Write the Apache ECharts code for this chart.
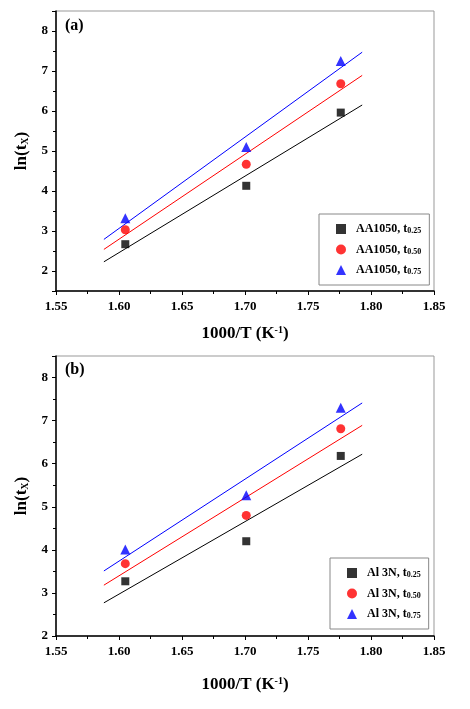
<!DOCTYPE html>
<html>
<head>
<meta charset="utf-8">
<script src="https://cdn.jsdelivr.net/npm/echarts@6/dist/echarts.min.js"></script>
<style>
  html, body { margin: 0; padding: 0; background: #fff; }
  #chart { width: 470px; height: 709px; }
</style>
</head>
<body>
<div id="chart"></div>
<script>
// temperatures, 1000/T
const xT = [1.605, 1.701, 1.776];

// (a) AA1050
const aT25 = [2.67, 4.13, 5.96];
const aT50 = [3.03, 4.67, 6.68];
const aT75 = [3.32, 5.10, 7.25];

// (b) Al 3N
const bT25 = [3.27, 4.20, 6.18];
const bT50 = [3.68, 4.80, 6.81];
const bT75 = [4.01, 5.27, 7.30];

// fitted lines, end points
const fitX = [1.588, 1.793];
const aFit25 = [2.23, 6.15];
const aFit50 = [2.54, 6.89];
const aFit75 = [2.79, 7.47];
const bFit25 = [2.77, 6.22];
const bFit50 = [3.18, 6.89];
const bFit75 = [3.51, 7.41];

const namesA = ["AA1050, t0.25", "AA1050, t0.50", "AA1050, t0.75"];
const namesB = ["Al 3N, t0.25", "Al 3N, t0.50", "Al 3N, t0.75"];

const FONT = "Liberation Serif";
const colors = ["#000000", "#ff0000", "#0000ff"];
const symbols = ["rect", "circle", "triangle"];
const symbolSizes = [8, 9, 10];

function pairs(xs, ys) {
  return xs.map((x, i) => [x, ys[i]]);
}

function xAxisOf(gridIndex, nameGap) {
  return {
    type: "value",
    gridIndex: gridIndex,
    min: 1.55,
    max: 1.85,
    interval: 0.05,
    name: "1000/T (K{sup|-1})",
    nameLocation: "middle",
    nameGap: nameGap,
    nameTextStyle: {
      fontFamily: FONT, fontWeight: "bold", fontSize: 17, color: "#000",
      rich: { sup: { fontFamily: FONT, fontWeight: "bold", fontSize: 10, verticalAlign: "top", color: "#000" } }
    },
    axisLine: { show: true, lineStyle: { color: "#000", width: 1.5 } },
    axisTick: { show: true, inside: false, length: 4, lineStyle: { color: "#000", width: 1 } },
    minorTick: { show: true, splitNumber: 2, length: 3, lineStyle: { color: "#000", width: 1 } },
    splitLine: { show: false },
    axisLabel: {
      margin: 9,
      fontFamily: FONT, fontWeight: "bold", fontSize: 13, color: "#000",
      formatter: (v) => v.toFixed(2)
    }
  };
}

function yAxisOf(gridIndex, min) {
  return {
    type: "value",
    gridIndex: gridIndex,
    min: min,
    max: 8.5,
    splitNumber: 7,
    name: "ln(t{sub|X})",
    nameLocation: "middle",
    nameGap: 26,
    nameTextStyle: {
      fontFamily: FONT, fontWeight: "bold", fontSize: 17, color: "#000",
      rich: { sub: { fontFamily: FONT, fontWeight: "bold", fontSize: 10, verticalAlign: "bottom", color: "#000" } }
    },
    axisLine: { show: true, lineStyle: { color: "#000", width: 1.5 } },
    axisTick: { show: true, inside: false, length: 4, lineStyle: { color: "#000", width: 1 } },
    minorTick: { show: true, splitNumber: 2, length: 3, lineStyle: { color: "#000", width: 1 } },
    splitLine: { show: false },
    axisLabel: {
      margin: 8,
      fontFamily: FONT, fontWeight: "bold", fontSize: 13, color: "#000",
      formatter: (v) => (Math.abs(v - Math.round(v)) < 1e-6 ? String(Math.round(v)) : "")
    }
  };
}

function legendOf(names, left, top, padding) {
  return {
    data: names,
    orient: "vertical",
    left: left,
    top: top,
    padding: padding,
    itemGap: 8.5,
    itemWidth: 10,
    itemHeight: 10,
    borderColor: "#888",
    borderWidth: 1,
    backgroundColor: "#fff",
    formatter: (name) => name.replace(/t(0\.\d+)$/, "t{sub|$1}"),
    textStyle: {
      fontFamily: FONT, fontWeight: "bold", fontSize: 12, color: "#000",
      padding: [0, 0, 0, 5],
      rich: { sub: { fontFamily: FONT, fontWeight: "bold", fontSize: 8, verticalAlign: "bottom", color: "#000" } }
    }
  };
}

const series = [];
const groups = [
  { grid: 0, names: namesA, pts: [aT25, aT50, aT75], fits: [aFit25, aFit50, aFit75] },
  { grid: 1, names: namesB, pts: [bT25, bT50, bT75], fits: [bFit25, bFit50, bFit75] }
];
groups.forEach((g) => {
  g.fits.forEach((f, i) => {
    series.push({
      type: "line",
      xAxisIndex: g.grid,
      yAxisIndex: g.grid,
      data: pairs(fitX, f),
      showSymbol: false,
      silent: true,
      lineStyle: { color: colors[i], width: 1 },
      z: 2
    });
  });
  g.pts.forEach((p, i) => {
    series.push({
      name: g.names[i],
      type: "scatter",
      xAxisIndex: g.grid,
      yAxisIndex: g.grid,
      data: pairs(xT, p),
      symbol: symbols[i],
      symbolSize: symbolSizes[i],
      itemStyle: { color: colors[i] },
      z: 3
    });
  });
});

const option = {
  animation: false,
  backgroundColor: "#fff",
  grid: [
    { left: 56, top: 11, width: 378, height: 280, show: true, borderColor: "#999", borderWidth: 1 },
    { left: 56, top: 356, width: 378, height: 280, show: true, borderColor: "#999", borderWidth: 1 }
  ],
  xAxis: [xAxisOf(0, 34), xAxisOf(1, 40)],
  yAxis: [yAxisOf(0, 1.5), yAxisOf(1, 2)],
  legend: [
    legendOf(namesA, 319, 214, [9, 8, 9, 17]),
    legendOf(namesB, 330, 558, [9, 8, 9, 17])
  ],
  graphic: [
    { type: "text", left: 65, top: 18, style: { text: "(a)", font: "bold 16px 'Liberation Serif'", fill: "#000" } },
    { type: "text", left: 65, top: 362, style: { text: "(b)", font: "bold 16px 'Liberation Serif'", fill: "#000" } }
  ],
  series: series
};

const chart = echarts.init(document.getElementById("chart"));
chart.setOption(option);
</script>
</body>
</html>
